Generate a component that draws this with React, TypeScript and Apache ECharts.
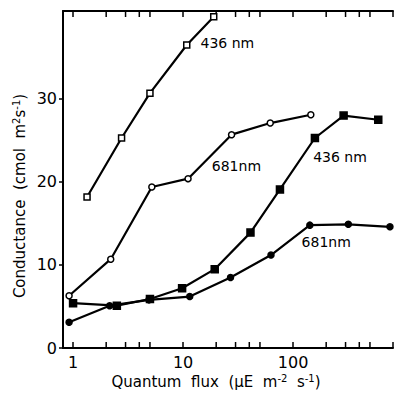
import React, { useEffect, useRef } from "react";
import * as echarts from "echarts";

// Open squares: 436 nm (upper curve)
const flux436Open = [1.34, 2.76, 5.0, 10.8, 19];
const cond436Open = [18.2, 25.3, 30.7, 36.5, 39.9];
// Open circles: 681 nm (upper curve)
const flux681Open = [0.92, 2.2, 5.2, 11.1, 27.6, 62, 145];
const cond681Open = [6.3, 10.7, 19.4, 20.4, 25.7, 27.1, 28.1];
// Filled squares: 436 nm (lower curve)
const flux436Fill = [1.0, 2.5, 5.0, 9.8, 19.4, 41, 76, 158, 288, 595];
const cond436Fill = [5.4, 5.1, 5.9, 7.2, 9.5, 13.9, 19.1, 25.3, 28.0, 27.5];
// Filled circles: 681 nm (lower curve)
const flux681Fill = [0.92, 2.15, 4.9, 11.5, 27, 63, 142, 318, 760];
const cond681Fill = [3.1, 5.1, 5.8, 6.2, 8.5, 11.2, 14.8, 14.9, 14.6];

const xMajorLabels = [1, 10, 100];
const xMinorTicks = [2, 3, 4, 5, 20, 30, 40, 50, 200, 300, 400, 500];
const yTicks = [0, 10, 20, 30];

const X_MIN = 0.81;
const X_MAX = 810;
const Y_MIN = 0;
const Y_MAX = 40.6;

const FONT = "DejaVu Sans";

function pairs(xs: number[], ys: number[]) {
  return xs.map((x, i) => [x, ys[i]]);
}

function withLabel(
  data: number[][],
  idx: number,
  text: string,
  distance: number,
  offset: number[]
) {
  return data.map((d, i) =>
    i === idx
      ? {
          value: d,
          label: {
            show: true,
            formatter: text,
            position: "right",
            distance,
            offset,
            color: "#000",
            fontFamily: FONT,
            fontSize: 14,
            align: "left",
            verticalAlign: "middle",
          },
        }
      : d
  );
}

export default function App() {
  const ref = useRef<HTMLDivElement>(null);
  useEffect(() => {
    if (!ref.current) return;
    const chart = echarts.init(ref.current, null, { renderer: "svg" });
    const lineStyle = { color: "#000", width: 2.2 };
    const common = {
      type: "line",
      xAxisIndex: 0,
      yAxisIndex: 0,
      lineStyle,
      itemStyle: { color: "#000", borderColor: "#000", borderWidth: 1.5 },
      z: 3,
    };
    const isMajor = (v: number) =>
      xMajorLabels.some((m) => Math.abs(v - m) / m < 1e-6);
    const rich = {
      a: { fontFamily: FONT, fontSize: 15, fill: "#000", color: "#000" },
      s: { fontFamily: FONT, fontSize: 10, fill: "#000", color: "#000", verticalAlign: "top", padding: [0, 0, 8, 0] },
    };
    chart.setOption({
      animation: false,
      textStyle: { fontFamily: FONT },
      grid: { left: 63, top: 11, right: 0, bottom: 48 },
      xAxis: [
        {
          type: "log",
          logBase: 10,
          min: X_MIN,
          max: X_MAX,
          position: "bottom",
          axisLine: { show: true, lineStyle: { color: "#000", width: 2 } },
          axisTick: { show: true, inside: true, length: 6, lineStyle: { color: "#000", width: 1.5 } },
          axisLabel: {
            color: "#000",
            fontSize: 16,
            fontFamily: FONT,
            margin: 6,
            formatter: (v: number) => (isMajor(v) ? String(Math.round(v)) : ""),
          },
          splitLine: { show: false },
        },
        {
          type: "log",
          logBase: 10,
          min: X_MIN,
          max: X_MAX,
          position: "top",
          axisLine: { show: true, lineStyle: { color: "#000", width: 2 } },
          axisTick: { show: true, inside: true, length: 6, lineStyle: { color: "#000", width: 1.5 } },
          axisLabel: { show: false },
          splitLine: { show: false },
        },
      ],
      yAxis: {
        type: "value",
        min: Y_MIN,
        max: Y_MAX,
        axisLine: { show: true, lineStyle: { color: "#000", width: 2 } },
        axisTick: {
          show: true,
          inside: false,
          length: 4,
          customValues: yTicks,
          lineStyle: { color: "#000", width: 1.5 },
        },
        axisLabel: {
          color: "#000",
          fontSize: 16,
          fontFamily: FONT,
          margin: 6,
          customValues: yTicks,
        },
        splitLine: { show: false },
      },
      graphic: [
        {
          type: "text",
          x: 216,
          y: 382,
          style: {
            text: "{a|Quantum  flux  (μE  m}{s|-2}{a|  s}{s|-1}{a|)}",
            align: "center",
            verticalAlign: "middle",
            rich,
          },
        },
        {
          type: "text",
          x: 20,
          y: 196,
          rotation: Math.PI / 2,
          style: {
            text: "{a|Conductance  (cmol  m}{s|2}{a|s}{s|-1}{a|)}",
            align: "center",
            verticalAlign: "middle",
            rich,
          },
        },
      ],
      series: [
        {
          ...common,
          name: "436 nm open",
          symbol: "rect",
          symbolSize: 6,
          itemStyle: { color: "#fff", borderColor: "#000", borderWidth: 1.5 },
          data: withLabel(pairs(flux436Open, cond436Open), 3, "436 nm", 10, [0, -2]),
        },
        {
          ...common,
          name: "681 nm open",
          symbol: "circle",
          symbolSize: 6,
          itemStyle: { color: "#fff", borderColor: "#000", borderWidth: 1.5 },
          data: withLabel(pairs(flux681Open, cond681Open), 3, "681nm", 20, [0, -13]),
        },
        {
          ...common,
          name: "436 nm filled",
          symbol: "rect",
          symbolSize: 7,
          data: withLabel(pairs(flux436Fill, cond436Fill), 7, "436 nm", 0, [-6, 19]),
        },
        {
          ...common,
          name: "681 nm filled",
          symbol: "circle",
          symbolSize: 6,
          data: withLabel(pairs(flux681Fill, cond681Fill), 6, "681nm", 0, [-12, 17]),
        },
        {
          type: "custom",
          name: "minor ticks",
          xAxisIndex: 0,
          yAxisIndex: 0,
          silent: true,
          clip: false,
          encode: { x: 0, y: 1 },
          data: xMinorTicks.map((v) => [v, Y_MIN]),
          renderItem: (_params: any, api: any) => {
            const v = api.value(0);
            const b = api.coord([v, Y_MIN]);
            const t = api.coord([v, Y_MAX]);
            return {
              type: "group",
              children: [
                {
                  type: "line",
                  shape: { x1: b[0], y1: b[1], x2: b[0], y2: b[1] - 6 },
                  style: { stroke: "#000", lineWidth: 1.5 },
                },
                {
                  type: "line",
                  shape: { x1: t[0], y1: t[1], x2: t[0], y2: t[1] + 6 },
                  style: { stroke: "#000", lineWidth: 1.5 },
                },
              ],
            };
          },
        },
      ],
    });
    return () => chart.dispose();
  }, []);
  return (
    <div
      ref={ref}
      style={{ position: "fixed", left: 0, top: 0, width: 396, height: 396, background: "#fff" }}
    />
  );
}
